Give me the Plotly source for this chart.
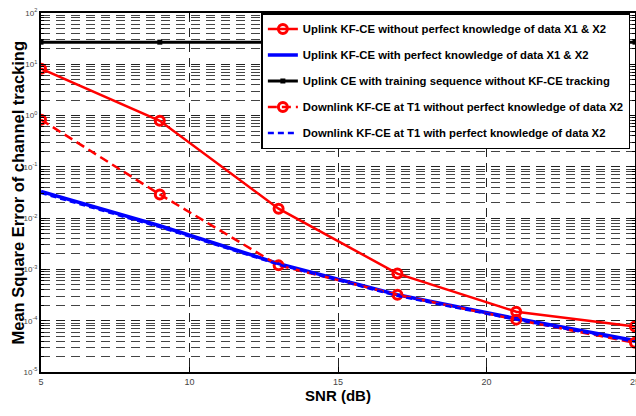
import plotly.graph_objects as go

snr = [5, 9, 13, 17, 21, 25]

uplink_noperfect = [8.2, 0.79, 0.0153, 8.3e-4, 1.5e-4, 7.7e-5]
uplink_perfect = [0.033, 0.0071, 1.3e-3, 3.2e-4, 1.1e-4, 4.1e-5]
uplink_training = [27, 27, 27, 27, 27, 27]
downlink_noperfect = [0.83, 0.029, 1.2e-3, 3.2e-4, 1.05e-4, 3.7e-5]
downlink_perfect = [0.031, 0.0067, 1.25e-3, 3.05e-4, 1.05e-4, 3.9e-5]

y_tick_vals = [1e-5, 1e-4, 1e-3, 1e-2, 1e-1, 1e0, 1e1, 1e2]
y_tick_text = ["10<sup>-5</sup>", "10<sup>-4</sup>", "10<sup>-3</sup>", "10<sup>-2</sup>",
               "10<sup>-1</sup>", "10<sup>0</sup>", "10<sup>1</sup>", "10<sup>2</sup>"]

names = [
    "Uplink KF-CE without perfect knowledge of data X1 & X2",
    "Uplink KF-CE with perfect knowledge of data X1 & X2",
    "Uplink CE with training sequence without KF-CE tracking",
    "Downlink KF-CE at T1 without perfect knowledge of data X2",
    "Downlink KF-CE at T1 with perfect knowledge of data X2",
]
y_title = "Mean Square Error of channel tracking"
x_title = "SNR (dB)"

fig = go.Figure()

fig.add_trace(go.Scatter(
    x=snr, y=uplink_noperfect, name=names[0], legendgroup="a",
    mode="lines+markers",
    line=dict(color="#ff0000", width=2.5),
    marker=dict(symbol="circle-open", size=9, color="#ff0000", line=dict(width=3, color="#ff0000")),
))
fig.add_trace(go.Scatter(
    x=snr, y=uplink_perfect, name=names[1], legendgroup="b",
    mode="lines",
    line=dict(color="#0000ff", width=3.5),
))
fig.add_trace(go.Scatter(
    x=snr, y=uplink_training, name=names[2], legendgroup="c",
    mode="lines+markers",
    line=dict(color="#000000", width=3),
    marker=dict(symbol="square", size=5, color="#000000"),
))
fig.add_trace(go.Scatter(
    x=snr, y=downlink_noperfect, name=names[3], legendgroup="d",
    mode="lines+markers",
    line=dict(color="#ff0000", width=2.5, dash="9px,5px"),
    marker=dict(symbol="circle-open", size=9, color="#ff0000", line=dict(width=3, color="#ff0000")),
))
fig.add_trace(go.Scatter(
    x=snr, y=downlink_perfect, name=names[4], legendgroup="e",
    mode="lines",
    line=dict(color="#0000ff", width=2.5, dash="6px,4px"),
))

grid_common = dict(griddash="9px,6px", gridcolor="#222222", gridwidth=1)

fig.update_xaxes(
    type="linear", range=[5, 25], dtick=5, tick0=5,
    automargin=False,
    showgrid=True, **grid_common,
    zeroline=False,
    showline=True, linecolor="black", linewidth=2, mirror="allticks",
    ticks="inside", ticklen=5, tickcolor="black",
    ticklabeloverflow="allow",
    tickfont=dict(family="Liberation Sans", size=9, color="#444444"),
    title=dict(text="<b>" + x_title + "</b>", font=dict(family="Liberation Sans", size=15, color="black"), standoff=5),
)
fig.update_yaxes(
    type="log", range=[-5, 2],
    automargin=False,
    tickmode="array", tickvals=y_tick_vals, ticktext=y_tick_text,
    showgrid=True, **grid_common,
    minor=dict(dtick="D1", showgrid=True, griddash="9px,6px", gridcolor="#444444", gridwidth=1,
               ticks="inside", ticklen=3, tickcolor="black"),
    zeroline=False,
    showline=True, linecolor="black", linewidth=2, mirror="allticks",
    ticks="inside", ticklen=5, tickcolor="black",
    tickfont=dict(family="Liberation Sans", size=8, color="#444444"),
)

fig.add_annotation(
    text="<b>" + y_title + "</b>",
    xref="paper", yref="paper", x=-0.0404, y=0.5,
    xanchor="center", yanchor="middle", textangle=-90, showarrow=False,
    font=dict(family="Liberation Sans", size=16.5, color="black"),
)

fig.update_layout(
    width=636, height=416,
    margin=dict(l=41, r=1, t=13, b=44, autoexpand=False),
    paper_bgcolor="white", plot_bgcolor="white",
    showlegend=True,
    legend=dict(
        x=0.371, y=1.0, xanchor="left", yanchor="top",
        bgcolor="white", bordercolor="black", borderwidth=1.5,
        font=dict(family="Liberation Sans", size=11.3, color="black"),
        tracegroupgap=7, itemwidth=30,
    ),
)
for tr in fig.data:
    tr.name = "<b>" + tr.name + "</b>"

fig.write_html("out.html")
